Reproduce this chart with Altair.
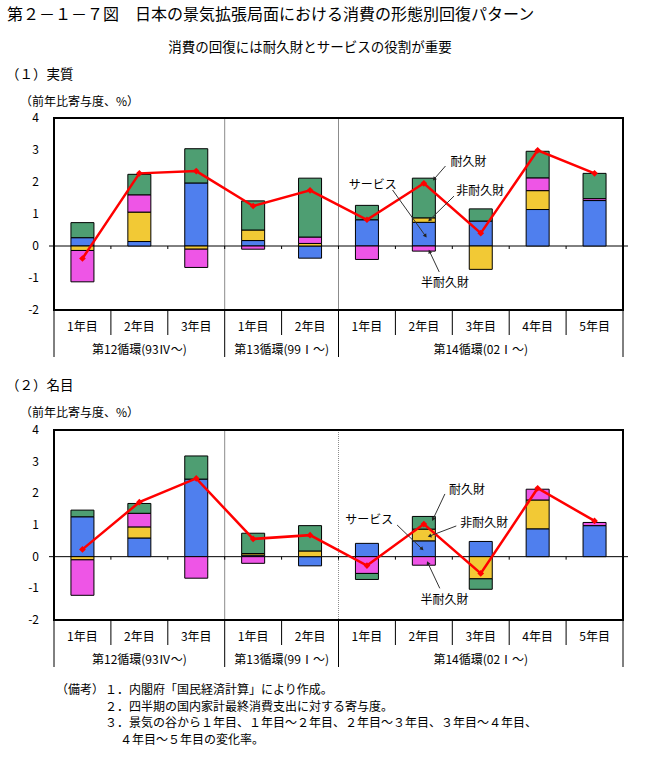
import math
import altair as alt
import pandas as pd

# ---------------- data ----------------
years = ["1年目", "2年目", "3年目", "1年目", "2年目",
         "1年目", "2年目", "3年目", "4年目", "5年目"]
cycles = ["第12循環(93Ⅳ～)", "第13循環(99Ⅰ～)", "第14循環(02Ⅰ～)"]
cycle_len = [3, 2, 5]
series = ["サービス", "非耐久財", "半耐久財", "耐久財"]

# (1) 実質
real_service = [0.26, 0.14, 1.97, 0.17, -0.38, 0.82, 0.74, 0.78, 1.14, 1.42]
real_nondurable = [-0.14, 0.92, -0.10, 0.33, 0.08, 0.0, 0.14, -0.73, 0.59, 0.0]
real_semidurable = [-0.98, 0.54, -0.57, -0.10, 0.20, -0.42, -0.16, 0.0, 0.40, 0.06]
real_durable = [0.47, 0.64, 1.07, 0.91, 1.84, 0.45, 1.24, 0.38, 0.83, 0.79]
real_total = [-0.39, 2.27, 2.34, 1.25, 1.74, 0.82, 1.96, 0.40, 2.99, 2.27]

# (2) 名目
nom_service = [1.26, 0.59, 2.45, 0.05, -0.29, 0.42, 0.50, 0.48, 0.88, 0.98]
nom_nondurable = [-0.10, 0.35, 0.0, 0.05, 0.18, 0.0, 0.37, -0.70, 0.91, 0.0]
nom_semidurable = [-1.12, 0.43, -0.68, -0.21, 0.0, -0.53, -0.27, 0.0, 0.34, 0.10]
nom_durable = [0.21, 0.31, 0.73, 0.64, 0.80, -0.19, 0.40, -0.33, 0.0, 0.0]
nom_total = [0.23, 1.72, 2.47, 0.56, 0.68, -0.28, 1.03, -0.53, 2.16, 1.13]

y_ticks = [4, 3, 2, 1, 0, -1, -2]

title_text = "第２－１－７図　日本の景気拡張局面における消費の形態別回復パターン"
subtitle_text = "消費の回復には耐久財とサービスの役割が重要"
panel_titles = ["（１）実質", "（２）名目"]
unit_text = "（前年比寄与度、%）"
notes_head = "（備考）"
notes = ["１．内閣府「国民経済計算」により作成。",
         "２．四半期の国内家計最終消費支出に対する寄与度。",
         "３．景気の谷から１年目、１年目～２年目、２年目～３年目、３年目～４年目、",
         "４年目～５年目の変化率。"]

# ---------------- layout / style ----------------
FONT = "Noto Sans CJK JP"
W, H = 659, 765
X0, X1 = 49, 628
colors = ["#4f7fee", "#f2c935", "#ee55e6", "#4e9e72"]
XS = alt.Scale(domain=[0, 10], range=[X0, X1])
PX_PER_X = (X1 - X0) / 10.0

# annotation anchors in data coordinates (x index, value): text pos, arrow start, arrow end
annot_real = [
    dict(label="耐久財", tx=6.97, ty=2.62, sx=6.88, sy=2.5, ex=6.68, ey=2.09),
    dict(label="サービス", tx=5.18, ty=1.91, sx=5.95, sy=1.75, ex=6.53, ey=0.31),
    dict(label="非耐久財", tx=7.07, ty=1.71, sx=7.03, sy=1.56, ex=6.6, ey=0.81),
    dict(label="半耐久財", tx=6.45, ty=-1.15, sx=6.77, sy=-0.81, ex=6.6, ey=-0.17),
]
annot_nom = [
    dict(label="耐久財", tx=6.94, ty=2.11, sx=6.87, sy=1.98, ex=6.66, ey=1.18),
    dict(label="サービス", tx=5.12, ty=1.16, sx=6.03, sy=1.0, ex=6.47, ey=0.24),
    dict(label="非耐久財", tx=7.14, ty=1.05, sx=7.07, sy=0.97, ex=6.6, ey=0.65),
    dict(label="半耐久財", tx=6.44, ty=-1.37, sx=6.78, sy=-1.0, ex=6.57, ey=-0.2),
]


def stack(parts):
    rows = []
    for i in range(len(years)):
        pos = neg = 0.0
        for name, vals in zip(series, parts):
            v = vals[i]
            if v == 0:
                continue
            if v > 0:
                rows.append(dict(i=i + 0.5, series=name, y0=pos, y1=pos + v))
                pos += v
            else:
                rows.append(dict(i=i + 0.5, series=name, y0=neg, y1=neg + v))
                neg += v
    return pd.DataFrame(rows)


def text_at(s, x, y, size=12, align="left", baseline="middle"):
    return alt.Chart(pd.DataFrame({"t": [s]})).mark_text(
        font=FONT, fontSize=size, align=align, baseline=baseline, color="black"
    ).encode(x=alt.value(x), y=alt.value(y), text="t:N")


def panel(parts, total, yb, yt, dotted, annots):
    ys = alt.Scale(domain=[-2, 4], range=[yb, yt])
    unit = (yb - yt) / 6.0
    X = lambda f: alt.X(f, scale=XS, axis=None)
    Y = lambda f: alt.Y(f, scale=ys, axis=None)

    bars = alt.Chart(stack(parts)).mark_bar(size=23, stroke="black", strokeWidth=1).encode(
        x=X("i:Q"), y=Y("y0:Q"), y2="y1:Q",
        color=alt.Color("series:N", scale=alt.Scale(domain=series, range=colors), legend=None),
    )
    zero = alt.Chart(pd.DataFrame({"v": [0]})).mark_rule(color="black", strokeWidth=1).encode(
        y=Y("v:Q"), x=alt.value(X0), x2=alt.value(X1))
    zticks = alt.Chart(pd.DataFrame({"b": [1, 2, 3, 4, 5, 6, 7, 8, 9]})).mark_rule(
        color="black", strokeWidth=1).encode(
        x=X("b:Q"), y=alt.value(yb - 2 * unit), y2=alt.value(yb - 2 * unit + 3))
    sep1 = alt.Chart(pd.DataFrame({"b": [3]})).mark_rule(color="#8c8c8c", strokeWidth=1).encode(
        x=X("b:Q"), y=alt.value(yt), y2=alt.value(yb))
    sep2 = alt.Chart(pd.DataFrame({"b": [5]})).mark_rule(
        color="#8c8c8c", strokeWidth=1, strokeDash=[1, 1] if dotted else [1, 0]).encode(
        x=X("b:Q"), y=alt.value(yt), y2=alt.value(yb))
    frame = alt.Chart(pd.DataFrame({"a": [0], "b": [10], "t": [4], "u": [-2]})).mark_rect(
        fillOpacity=0, stroke="black", strokeWidth=2).encode(
        x=X("a:Q"), x2="b:Q", y=Y("t:Q"), y2="u:Q")
    line_df = pd.DataFrame({"i": [k + 0.5 for k in range(len(total))], "total": total})
    line = alt.Chart(line_df).mark_line(color="#ff0000", strokeWidth=2.5).encode(
        x=X("i:Q"), y=Y("total:Q"))
    pts = alt.Chart(line_df).mark_point(shape="diamond", filled=True, size=45,
                                         color="#ff0000", opacity=1).encode(
        x=X("i:Q"), y=Y("total:Q"))
    # y tick labels
    tl = alt.Chart(pd.DataFrame({"v": y_ticks, "lab": [str(v) for v in y_ticks]})).mark_text(
        font=FONT, fontSize=12, align="right", baseline="middle", color="black").encode(
        y=Y("v:Q"), x=alt.value(39), text="lab:N")
    # category table under plot
    inner = alt.Chart(pd.DataFrame({"b": [1, 2, 4, 6, 7, 8, 9]})).mark_rule(
        color="black", strokeWidth=1).encode(x=X("b:Q"), y=alt.value(yb), y2=alt.value(yb + 25))
    outer = alt.Chart(pd.DataFrame({"b": [0, 3, 5, 10]})).mark_rule(
        color="black", strokeWidth=1).encode(x=X("b:Q"), y=alt.value(yb), y2=alt.value(yb + 47))
    cat = alt.Chart(pd.DataFrame({"i": [k + 0.5 for k in range(len(years))], "lab": years})).mark_text(
        font=FONT, fontSize=12, align="center", baseline="middle", color="black").encode(
        x=X("i:Q"), y=alt.value(yb + 17), text="lab:N")
    starts = [sum(cycle_len[:k]) for k in range(len(cycle_len))]
    gdf = pd.DataFrame({"c": [s + n / 2 for s, n in zip(starts, cycle_len)], "lab": cycles})
    grp = alt.Chart(gdf).mark_text(font=FONT, fontSize=12, align="center", baseline="middle",
                                   color="black").encode(x=X("c:Q"), y=alt.value(yb + 40), text="lab:N")
    # annotations
    adf = pd.DataFrame(annots)
    adf["ang"] = [
        (math.degrees(math.atan2((r["ex"] - r["sx"]) * PX_PER_X, (r["ey"] - r["sy"]) * unit)) + 360) % 360
        for r in annots]
    alab = alt.Chart(adf).mark_text(font=FONT, fontSize=12, align="left", baseline="middle",
                                    color="black").encode(x=X("tx:Q"), y=Y("ty:Q"), text="label:N")
    aline = alt.Chart(adf).mark_rule(color="#333333", strokeWidth=1).encode(
        x=X("sx:Q"), x2="ex:Q", y=Y("sy:Q"), y2="ey:Q")
    ahead = alt.Chart(adf).mark_point(shape="triangle-up", filled=True, size=18, color="#222222",
                                      opacity=1).encode(
        x=X("ex:Q"), y=Y("ey:Q"), angle=alt.Angle("ang:Q", scale=None))
    return alt.layer(sep1, sep2, zero, zticks, bars, frame, line, pts, tl, inner, outer, cat, grp,
                     aline, ahead, alab)


p1 = panel([real_service, real_nondurable, real_semidurable, real_durable], real_total,
           310, 118, False, annot_real)
p2 = panel([nom_service, nom_nondurable, nom_semidurable, nom_durable], nom_total,
           620, 430, True, annot_nom)

header = alt.layer(
    text_at(title_text, 7, 15, size=16),
    text_at(subtitle_text, 310, 48, size=13.5, align="center"),
    text_at(panel_titles[0], 6, 75, size=13.5),
    text_at(unit_text, 20, 102, size=12),
    text_at(panel_titles[1], 6, 386, size=13.5),
    text_at(unit_text, 20, 413, size=12),
    text_at(notes_head, 56, 690, size=12),
    text_at(notes[0], 105, 690, size=12),
    text_at(notes[1], 105, 706.5, size=12),
    text_at(notes[2], 105, 723, size=12),
    text_at(notes[3], 120, 739.5, size=12),
)

chart = alt.layer(header, p1, p2).resolve_scale(y="independent").properties(
    width=W, height=H, padding=0, autosize=alt.AutoSizeParams(type="none"),
    background="white",
).configure_view(stroke=None)

chart.save("out.html", embed_options={"renderer": "svg", "actions": False})
